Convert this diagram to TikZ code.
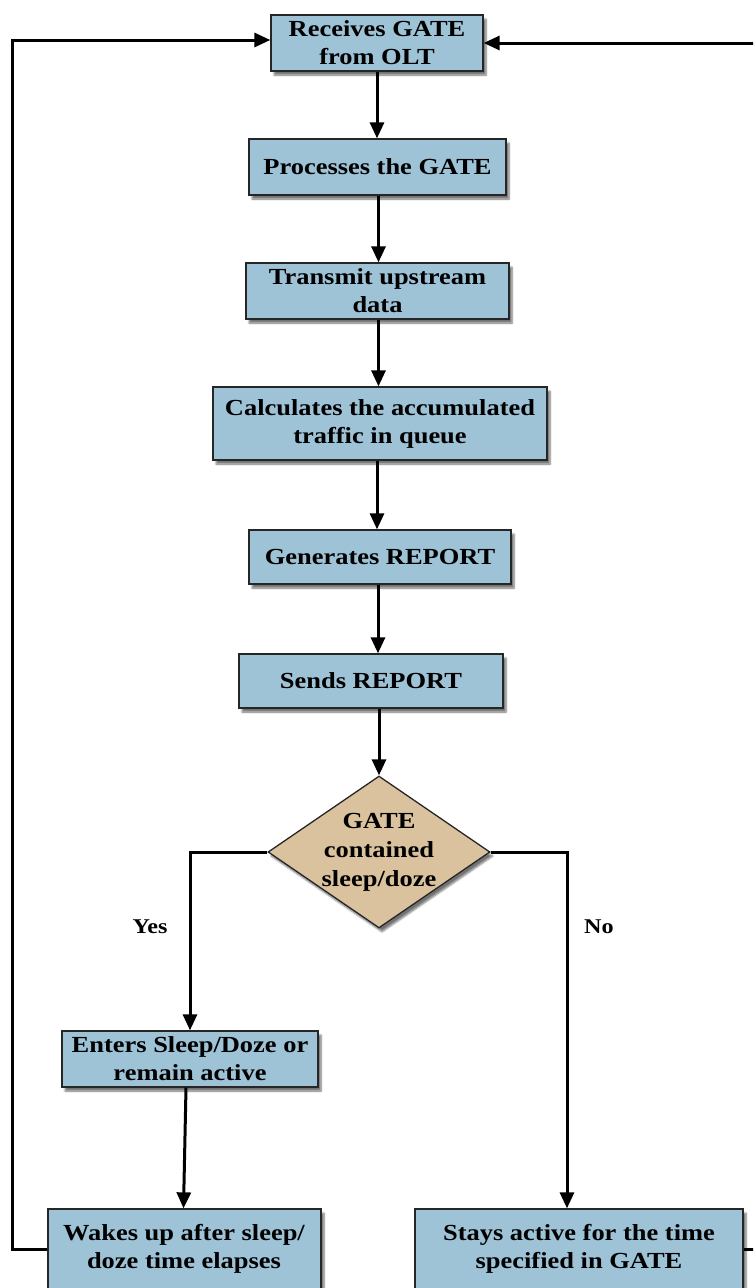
\documentclass[tikz,border=0pt]{standalone}
\usepackage{fontspec}
\setmainfont{Liberation Serif}[FakeStretch=1.15]
\usetikzlibrary{arrows.meta,shapes.geometric,shadows.blur,calc}
\definecolor{boxblue}{RGB}{158,195,214}
\definecolor{decisiontan}{RGB}{219,194,158}
\tikzset{
  proc/.style={draw=black!85, line width=1.3pt, fill=boxblue, rectangle,
    inner sep=0pt, align=center,
    blur shadow={shadow xshift=3pt, shadow yshift=-4pt, shadow blur steps=6, shadow opacity=55}},
  decision/.style={draw=black!85, line width=1.3pt, fill=decisiontan, diamond,
    inner sep=0pt,
    blur shadow={shadow xshift=3pt, shadow yshift=-4pt, shadow blur steps=6, shadow opacity=55}},
  lbl/.style={font=\fontsize{23}{28}\selectfont\bfseries, align=center, inner sep=0pt},
  flow/.style={line width=3pt, -{Triangle[length=16pt,width=14pt]}},
  link/.style={line width=3pt}
}
\newcommand{\procbox}[6]{%
  % name, left, top, right, bottom, text
  \node[proc, minimum width={(#4)-(#2)}, minimum height={(#5)-(#3)}]
    (#1) at ({((#2)+(#4))/2},{((#3)+(#5))/2}) {};
  \node[lbl] (#1-text) at (#1) {#6};%
}
\begin{document}
\begin{tikzpicture}[x=1pt,y=-1pt]
\useasboundingbox (0,0) rectangle (753,1288);
\begin{scope}
\clip (0,0) rectangle (753,1288);

% process steps
\procbox{recv}{271}{15}{483}{71}{Receives GATE\\from OLT}
\procbox{proc}{249}{139}{506}{195}{Processes the GATE}
\procbox{tx}{246}{263}{509}{319}{Transmit upstream\\data}
\procbox{calc}{213}{387}{547}{460}{Calculates the accumulated\\traffic in queue}
\procbox{gen}{249}{530}{511}{584}{Generates REPORT}
\procbox{send}{239}{654}{503}{708}{Sends REPORT}

% decision
\node[decision, minimum width=222pt, minimum height=152pt] (dec) at (379,852) {};
\node[lbl, font=\fontsize{23}{29}\selectfont\bfseries] (dec-text) at (379,852) {GATE\\contained\\sleep/doze};

% branches
\procbox{sleep}{62}{1031}{318}{1087}{Enters Sleep/Doze or\\remain active}
\procbox{wake}{48}{1209}{321}{1300}{}
\node[lbl] (wake-text) at (184,1249) {Wakes up after sleep/\\doze time elapses};
\procbox{stay}{415}{1209}{743}{1300}{}
\node[lbl] (stay-text) at (579,1249) {Stays active for the time\\specified in GATE};

% main sequence
\draw[flow] (recv.south) -- (recv.south |- proc.north);
\draw[flow] ($(proc.south)+(1,0)$) -- ($(tx.north)+(1,0)$);
\draw[flow] ($(tx.south)+(1,0)$) -- ($(tx.south |- calc.north)+(1,0)$);
\draw[flow] ($(calc.south)+(-3,0)$) -- ($(calc.south |- gen.north)+(-3,0)$);
\draw[flow] ($(gen.south)+(-2,0)$) -- ($(gen.south |- send.north)+(-2,0)$);
\draw[flow] (send.south -| dec.north) -- (dec.north);

% yes / no branches
\coordinate (yesbend) at (190,852);
\coordinate (nobend) at (567,852);
\draw[flow] (dec.west) -- (yesbend) -- (yesbend |- sleep.north);
\draw[flow] (dec.east) -- (nobend) -- (nobend |- stay.north);
\node[lbl, font=\fontsize{21}{24}\selectfont\bfseries] (yes) at (150,927) {Yes};
\node[lbl, font=\fontsize{21}{24}\selectfont\bfseries] (no) at (599,927) {No};

\draw[flow] ($(sleep.south)+(-4,0)$) -- ($(wake.north)+(-1,0)$);

% loops back to the start
\coordinate (lbot) at (12,1249);
\coordinate (ltop) at (12,40);
\draw[flow] (wake.west |- lbot) -- (lbot) -- (ltop) -- (ltop -| recv.west);
\coordinate (rbot) at (770,1249);
\coordinate (rtop) at (770,43);
\draw[flow] (stay.east |- rbot) -- (rbot) -- (rtop) -- (rtop -| recv.east);
\end{scope}
\end{tikzpicture}
\end{document}
